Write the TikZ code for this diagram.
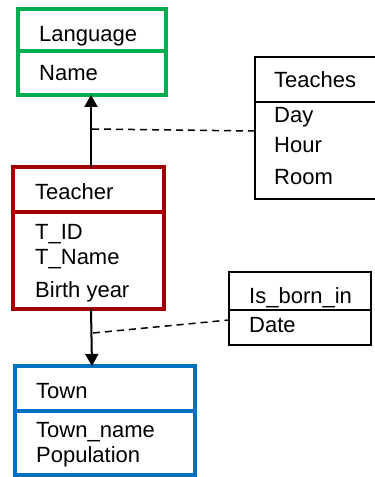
\documentclass[tikz,border=0pt]{standalone}
\usepackage{fontspec}
\setmainfont{Liberation Sans}
\usetikzlibrary{arrows.meta}
\definecolor{cgreen}{HTML}{00B050}
\definecolor{cred}{HTML}{A00000}
\definecolor{cblue}{HTML}{0070C0}
\tikzset{
  box/.style={draw,inner sep=0pt,outer sep=0pt,anchor=north west},
  cbox/.style={box,line width=3.5bp},
  kbox/.style={box,line width=2bp},
  lbl/.style={anchor=base west,inner sep=0pt,font=\fontsize{22bp}{25bp}\selectfont},
  rel/.style={line width=2bp,-{Triangle[width=13bp,length=12bp]}},
  dashline/.style={line width=1.5bp,dash pattern=on 7bp off 5bp}
}
\begin{document}
\begin{tikzpicture}[x=1bp,y=-1bp]
\useasboundingbox (0,0) rectangle (374,477);
% boxes
\node[cbox,draw=cgreen,minimum width=148bp,minimum height=86bp] (language) at (18,9) {};
\draw[cgreen,line width=3.5bp] (18,51) -- (166,51);
\node[kbox,minimum width=124bp,minimum height=142bp] (teaches) at (255,57) {};
\draw[line width=2bp] (255,102) -- (379,102);
\node[cbox,draw=cred,minimum width=151bp,minimum height=142bp] (teacher) at (13,167) {};
\draw[cred,line width=3.5bp] (13,212) -- (164,212);
\node[kbox,minimum width=142bp,minimum height=73bp] (isborn) at (229,272) {};
\draw[line width=2bp] (229,310) -- (371,310);
\node[cbox,draw=cblue,minimum width=180bp,minimum height=109bp] (town) at (15,366) {};
\draw[cblue,line width=3.5bp] (15,411) -- (195,411);
% labels
\node[lbl] (tLanguage) at (39,42) {Language};
\node[lbl] (tName) at (39,81) {Name};
\node[lbl] (tTeaches) at (274,88) {Teaches};
\node[lbl] (tDay) at (274,123) {Day};
\node[lbl] (tHour) at (274,153) {Hour};
\node[lbl] (tRoom) at (274,185) {Room};
\node[lbl] (tTeacher) at (35,199) {Teacher};
\node[lbl] (tTID) at (35,239) {T\_ID};
\node[lbl] (tTName) at (35,264) {T\_Name};
\node[lbl] (tBirth) at (35,297) {Birth year};
\node[lbl] (tIsborn) at (249,303) {Is\_born\_in};
\node[lbl] (tDate) at (249,332) {Date};
\node[lbl] (tTown) at (36,398) {Town};
\node[lbl] (tTownname) at (36,437) {Town\_name};
\node[lbl] (tPop) at (36,462) {Population};
% connectors
\coordinate (a1s) at (91,167);
\coordinate (a1e) at (91,95);
\draw[rel] (a1s) -- (a1e);
\coordinate (m1) at (92,129);
\coordinate (e1) at (255,131);
\draw[dashline] (m1) -- (e1);
\coordinate (a2s) at (91,309);
\coordinate (a2e) at (92,366);
\draw[rel] (a2s) -- (a2e);
\coordinate (m2) at (93,333);
\coordinate (e2) at (229,320);
\draw[dashline] (m2) -- (e2);
\end{tikzpicture}
\end{document}
